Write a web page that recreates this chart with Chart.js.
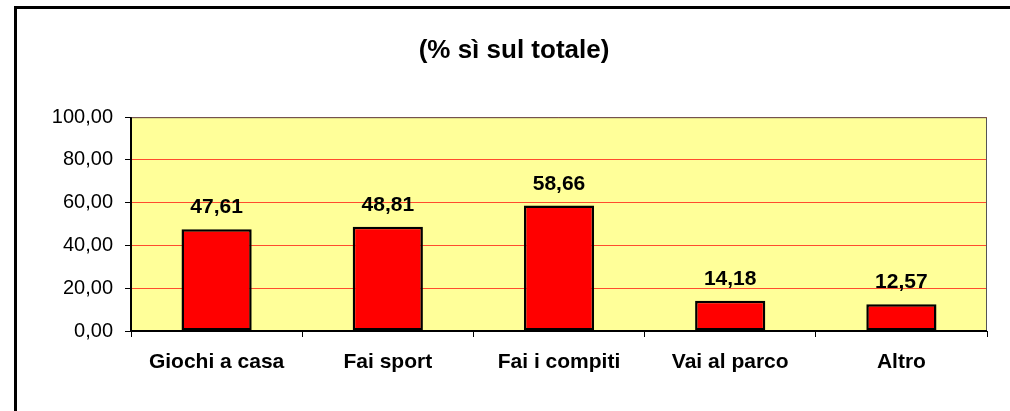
<!DOCTYPE html>
<html>
<head>
<meta charset="utf-8">
<script src="https://cdn.jsdelivr.net/npm/chart.js@4"></script>
<style>
	body { margin: 0; background: #fff; overflow: hidden; }
</style>
</head>
<body>
<canvas id="chart" width="1010" height="411"></canvas>
<script>
const categories = ['Giochi a casa', 'Fai sport', 'Fai i compiti', 'Vai al parco', 'Altro'];
const values = [47.61, 48.81, 58.66, 14.18, 12.57];
const yTicks = [0, 20, 40, 60, 80, 100];
const titleText = '(% sì sul totale)';
const fontFamily = '"Liberation Sans", Arial, sans-serif';

function fmt(v){
	return v.toFixed(2).replace('.', ',');
}

// outer chart frame + yellow plot area
const plotArea = {
	id: 'plotArea',
	beforeDraw(chart){
		const a = chart.chartArea;
		const ctx = chart.ctx;
		ctx.save();
		ctx.fillStyle = '#FFFF99';
		ctx.fillRect(a.left, a.top, a.right - a.left, a.bottom - a.top);
		// frame: only left and top edges are inside the picture
		ctx.strokeStyle = '#000';
		ctx.lineWidth = 3;
		ctx.beginPath();
		ctx.moveTo(15.5, chart.height + 5);
		ctx.lineTo(15.5, 7.5);
		ctx.lineTo(chart.width + 5, 7.5);
		ctx.stroke();
		ctx.restore();
	},
	afterDraw(chart){
		const a = chart.chartArea;
		const ctx = chart.ctx;
		ctx.save();
		ctx.lineWidth = 1;
		ctx.strokeStyle = '#555';
		ctx.beginPath();
		ctx.moveTo(a.left, a.top + 0.5);
		ctx.lineTo(a.right - 0.5, a.top + 0.5);
		ctx.lineTo(a.right - 0.5, a.bottom);
		ctx.stroke();
		ctx.strokeStyle = '#000';
		ctx.lineWidth = 2;
		ctx.beginPath();
		ctx.moveTo(a.left, a.top);
		ctx.lineTo(a.left, a.bottom);
		ctx.lineTo(a.right, a.bottom);
		ctx.stroke();
		ctx.restore();
	}
};

// value labels above the bars
const valueLabels = {
	id: 'valueLabels',
	afterDatasetsDraw(chart){
		const ctx = chart.ctx;
		const meta = chart.getDatasetMeta(0);
		ctx.save();
		ctx.font = 'bold 21px ' + fontFamily;
		ctx.fillStyle = '#000';
		ctx.textAlign = 'center';
		ctx.textBaseline = 'alphabetic';
		meta.data.forEach(function(bar, i){
			ctx.fillText(fmt(values[i]), bar.x, bar.y - 16);
		});
		ctx.restore();
	}
};

new Chart(document.getElementById('chart'), {
	type: 'bar',
	data: {
		labels: categories,
		datasets: [{
			data: values,
			backgroundColor: '#FF0000',
			borderColor: '#000',
			borderWidth: 2.5,
			borderSkipped: false,
			categoryPercentage: 1,
			barPercentage: 0.41
		}]
	},
	options: {
		responsive: false,
		animation: false,
		layout: { padding: { left: 41, right: 23, top: 0, bottom: 0 } },
		plugins: {
			legend: { display: false },
			tooltip: { enabled: false },
			title: {
				display: true,
				text: titleText,
				color: '#000',
				font: { family: fontFamily, size: 26, weight: 'bold' },
				padding: { top: 35, bottom: 51 }
			}
		},
		scales: {
			x: {
				grid: { offset: true, drawOnChartArea: false, color: '#000', tickColor: '#000', tickLength: 6 },
				border: { display: false },
				ticks: { color: '#000', font: { family: fontFamily, size: 21, weight: 'bold' }, padding: 13, maxRotation: 0 },
				afterFit(scale){ scale.height = 80; }
			},
			y: {
				min: 0,
				max: 100,
				afterBuildTicks(scale){ scale.ticks = yTicks.map(v => ({ value: v })); },
				grid: { color: 'rgba(255,0,0,0.7)', tickColor: '#000', tickLength: 6 },
				border: { display: false },
				ticks: { color: '#000', font: { family: fontFamily, size: 20 }, padding: 12, callback: v => fmt(v) },
				afterFit(scale){ scale.width = 90; }
			}
		}
	},
	plugins: [plotArea, valueLabels]
});
</script>
</body>
</html>
